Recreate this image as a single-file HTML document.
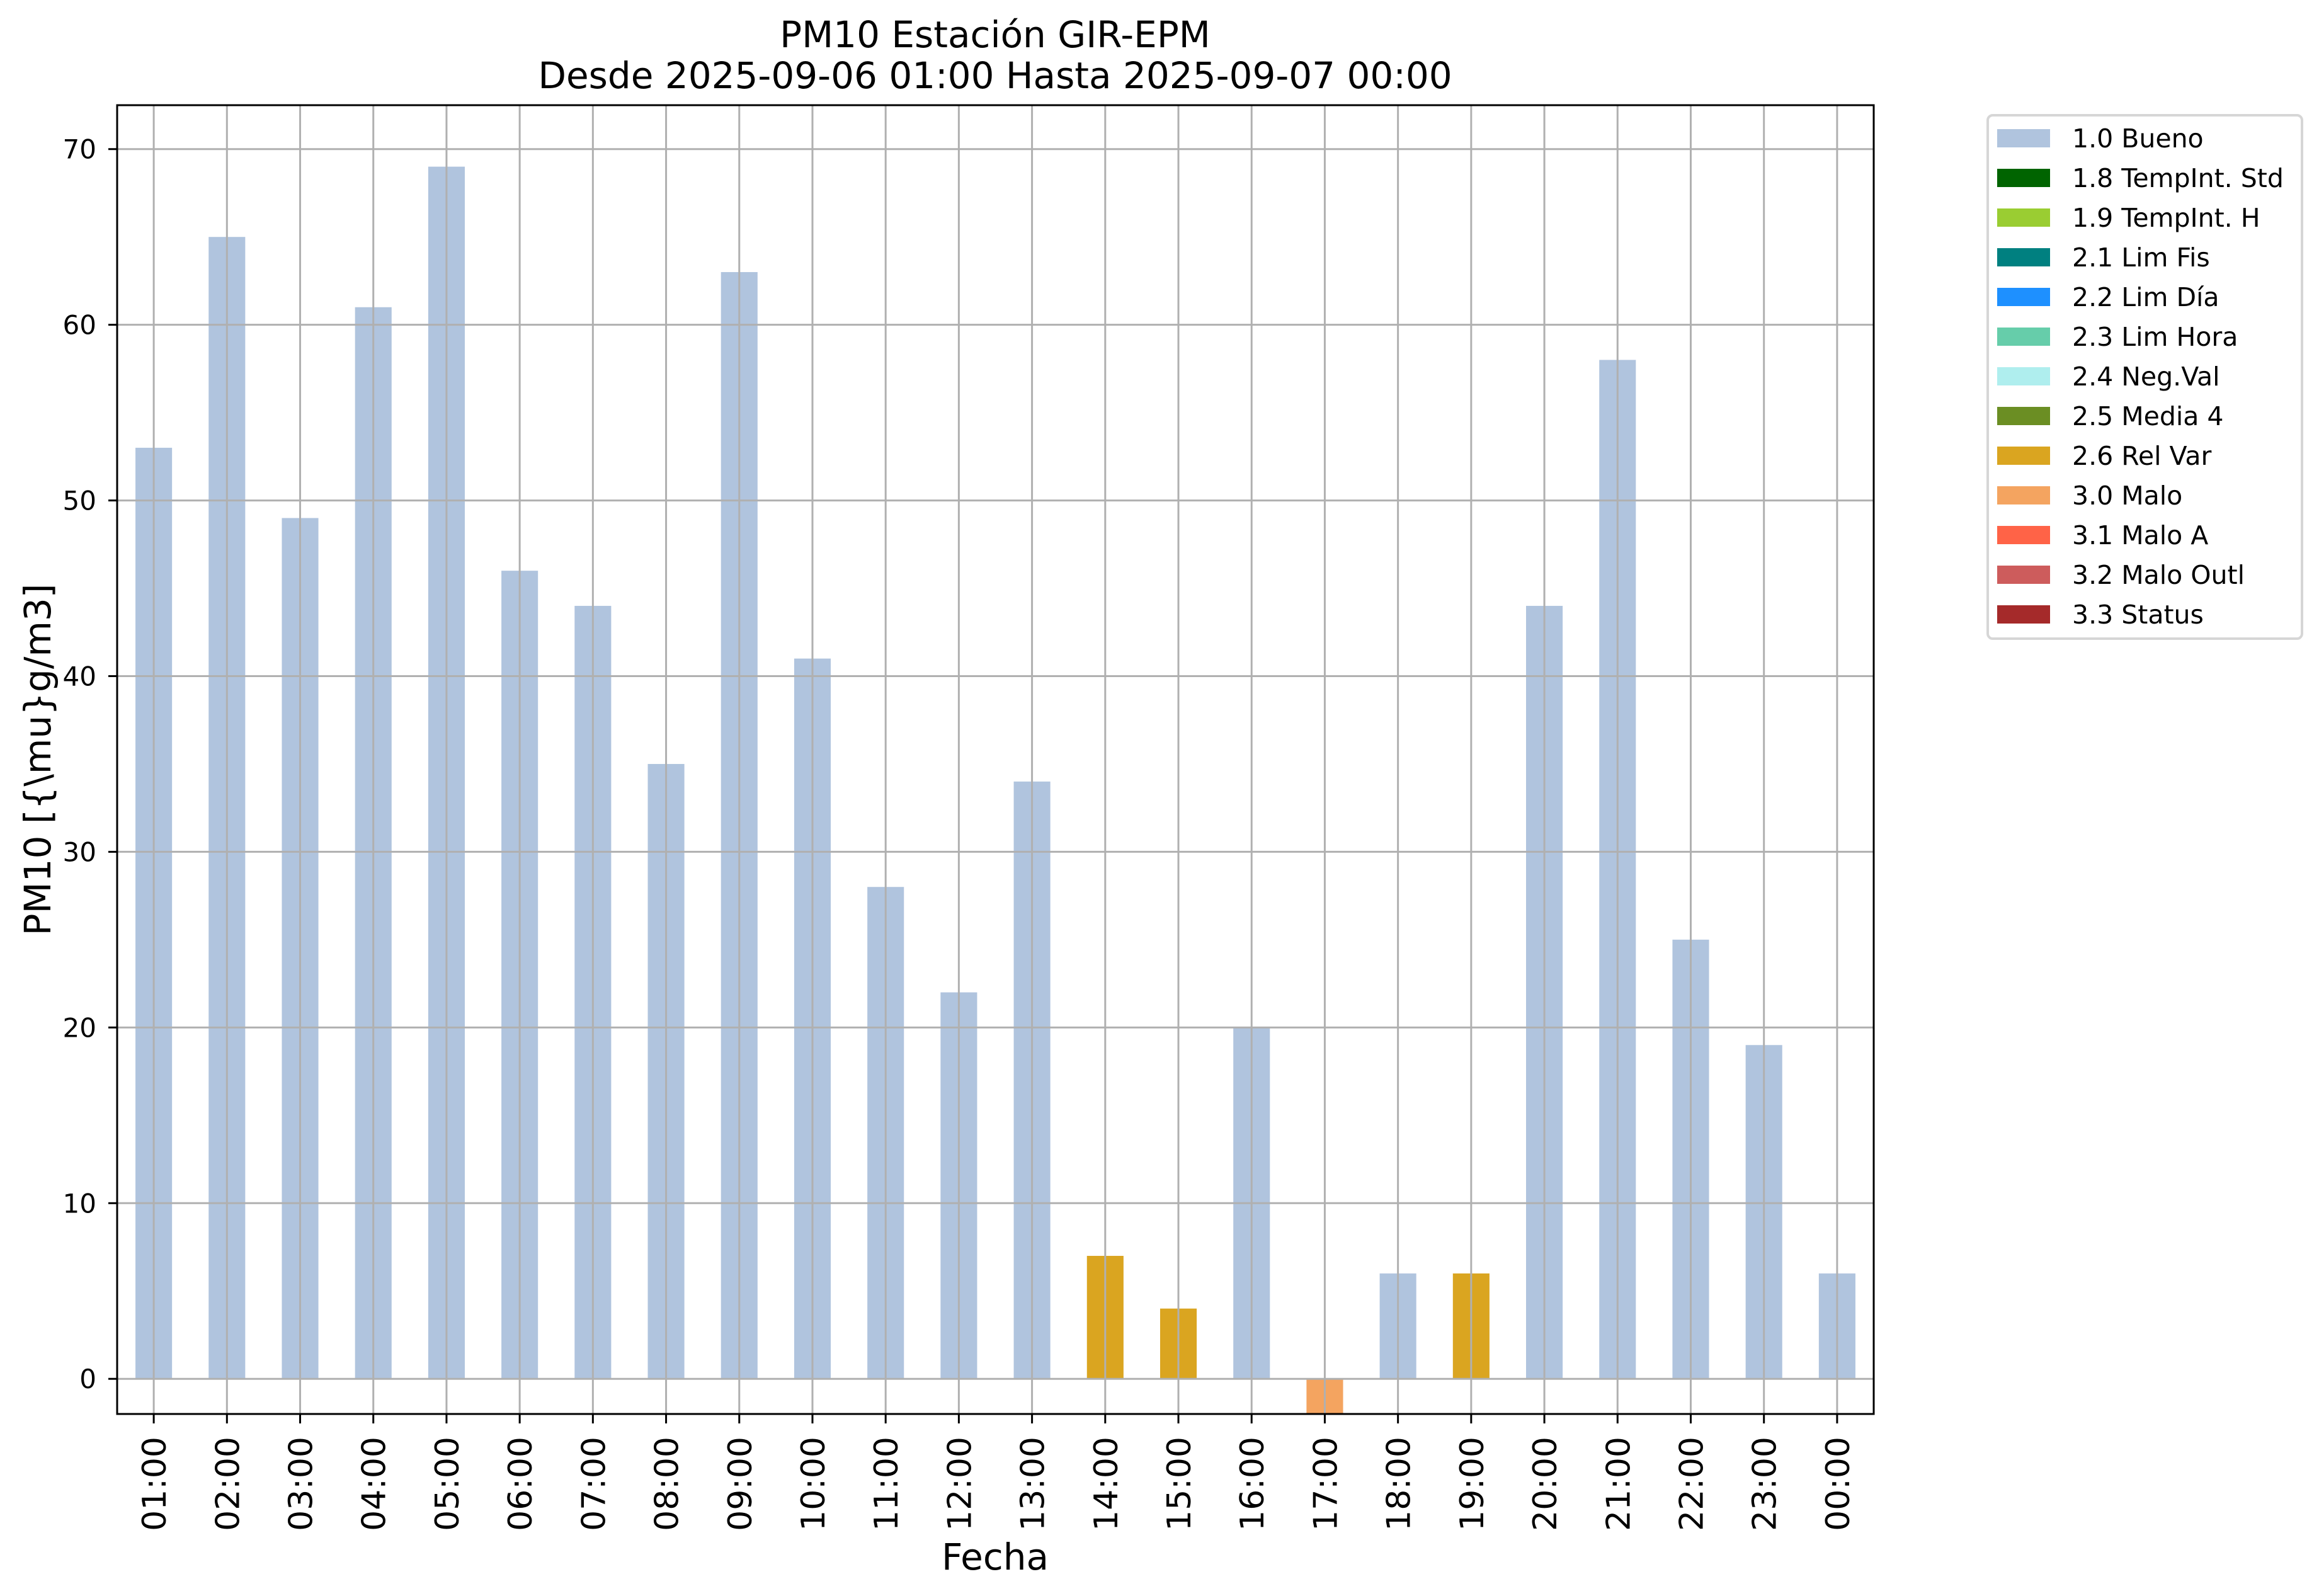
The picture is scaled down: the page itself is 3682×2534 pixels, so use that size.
<!DOCTYPE html>
<html><head><meta charset="utf-8"><style>
html,body{margin:0;padding:0;background:#fff;}
svg{display:block;font-family:"DejaVu Sans","Liberation Sans",sans-serif;}
</style></head><body>
<svg id="chart" width="3682" height="2534" viewBox="0 0 3682 2534" xmlns="http://www.w3.org/2000/svg">
<rect width="3682" height="2534" fill="#fff"/>
<text x="1580" y="75" font-size="58" text-anchor="middle">PM10 Estación GIR-EPM</text>
<text x="1580" y="140" font-size="58" text-anchor="middle">Desde 2025-09-06 01:00 Hasta 2025-09-07 00:00</text>
<g id="bars"></g>
<g id="grid"></g>
<g id="ticks"></g>
<rect x="186" y="167" width="2789" height="2078" fill="none" stroke="#000" stroke-width="3"/>
<text x="1580" y="2492" font-size="58" text-anchor="middle">Fecha</text>
<text transform="translate(80,1206) rotate(-90)" font-size="58" text-anchor="middle">PM10 [{\mu}g/m3]</text>
<g id="legend">
<rect x="3156" y="183" width="499" height="831" rx="8" fill="#fff" stroke="#d6d6d6" stroke-width="4"/>
</g>
</svg>
<script>
const categories = ["01:00","02:00","03:00","04:00","05:00","06:00","07:00","08:00","09:00","10:00","11:00","12:00","13:00","14:00","15:00","16:00","17:00","18:00","19:00","20:00","21:00","22:00","23:00","00:00"];
const values = [53,65,49,61,69,46,44,35,63,41,28,22,34,7,4,20,-2,6,6,44,58,25,19,6];
const flags = ["1.0","1.0","1.0","1.0","1.0","1.0","1.0","1.0","1.0","1.0","1.0","1.0","1.0","2.6","2.6","1.0","3.0","1.0","2.6","1.0","1.0","1.0","1.0","1.0"];
const yTicks = [0,10,20,30,40,50,60,70];
const legendLabels = ["1.0 Bueno","1.8 TempInt. Std","1.9 TempInt. H","2.1 Lim Fis","2.2 Lim Día","2.3 Lim Hora","2.4 Neg.Val","2.5 Media 4","2.6 Rel Var","3.0 Malo","3.1 Malo A","3.2 Malo Outl","3.3 Status"];
const legendCodes = ["1.0","1.8","1.9","2.1","2.2","2.3","2.4","2.5","2.6","3.0","3.1","3.2","3.3"];
const legendColors = ["#B0C4DE","#006400","#9ACD32","#008080","#1E90FF","#66CDAA","#AFEEEE","#6B8E23","#DAA520","#F4A460","#FF6347","#CD5C5C","#A52A2A"];

const NS="http://www.w3.org/2000/svg";
const L=186,R=2975,T=167,B=2245,yMin=-2.0,yMax=72.5;
const step=(R-L)/categories.length;
function xPos(i){return L+step*(i+0.5);}
function yPos(v){return B-(v-yMin)/(yMax-yMin)*(B-T);}
function mk(tag,attrs,parent){const e=document.createElementNS(NS,tag);for(const k in attrs)e.setAttribute(k,attrs[k]);parent.appendChild(e);return e;}
const colorOf={};legendCodes.forEach((c,i)=>colorOf[c]=legendColors[i]);

const bars=document.getElementById('bars');
values.forEach((v,i)=>{
  const y0=yPos(0), y1=Math.max(T,Math.min(B,yPos(v)));
  const r=mk('rect',{x:xPos(i)-step*0.25,y:Math.min(y0,y1),width:step*0.5,height:Math.abs(y0-y1),fill:colorOf[flags[i]]},bars);
  
  
});
const grid=document.getElementById('grid');
const ticks=document.getElementById('ticks');
categories.forEach((c,i)=>{
  const x=xPos(i);
  const g=mk('line',{x1:x,x2:x,y1:T,y2:B,stroke:'#b0b0b0','stroke-width':3},grid);
  
  
  const t=mk('line',{x1:x,x2:x,y1:B,y2:B+15,stroke:'#000','stroke-width':3},ticks);
  
  
  const lb=mk('text',{transform:`translate(${x+19},2281) rotate(-90)`,'font-size':52,'text-anchor':'end'},ticks);
  lb.textContent=c;
  
  
});
yTicks.forEach(v=>{
  const y=yPos(v);
  const g=mk('line',{x1:L,x2:R,y1:y,y2:y,stroke:'#b0b0b0','stroke-width':3},grid);
  
  
  const t=mk('line',{x1:L-14,x2:L,y1:y,y2:y,stroke:'#000','stroke-width':3},ticks);
  
  
  const lb=mk('text',{x:153,y:y+15,'font-size':42,'text-anchor':'end'},ticks);
  lb.textContent=v;
  
  
});
const leg=document.getElementById('legend');
legendLabels.forEach((lab,i)=>{
  const cy=219+63*i;
  const p=mk('rect',{x:3171,y:cy-14,width:84,height:29,fill:legendColors[i]},leg);
  
  
  const t=mk('text',{x:3290,y:cy+15,'font-size':41},leg);
  t.textContent=lab;
  
  
});
</script>
</body></html>
